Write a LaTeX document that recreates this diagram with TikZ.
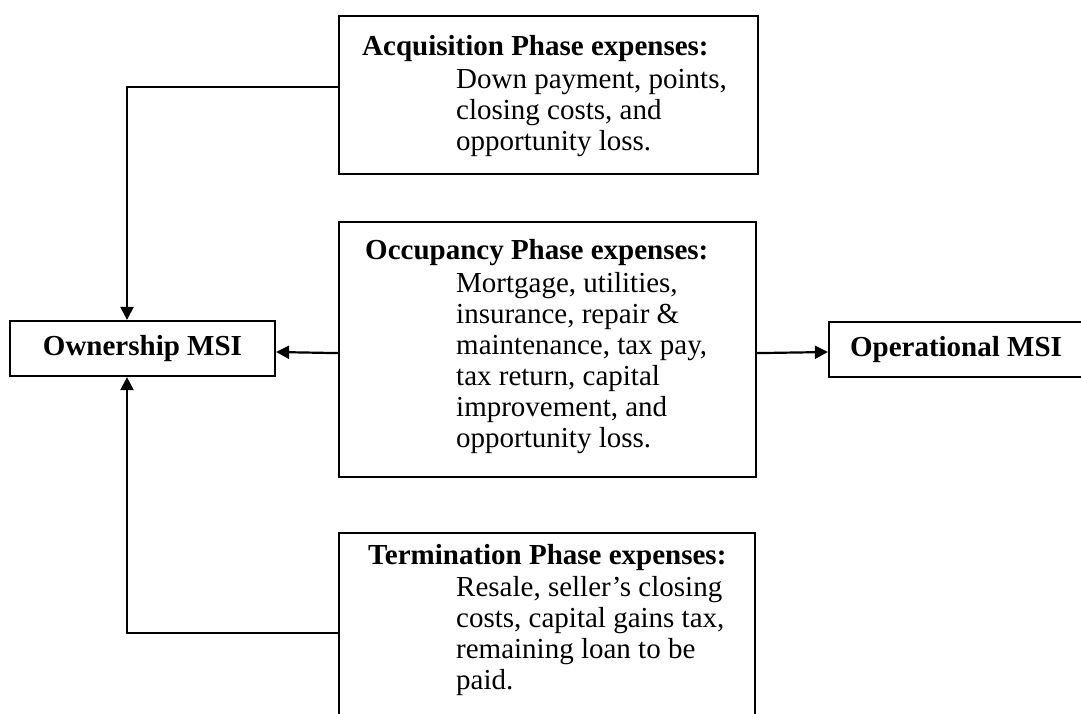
\documentclass[tikz,border=0pt]{standalone}
\usepackage{fontspec}
\setmainfont{Liberation Serif}
\usetikzlibrary{arrows.meta}
\begin{document}
\begin{tikzpicture}[x=1pt,y=1pt,
  box/.style={draw, line width=2.2pt, inner sep=0pt},
  txt/.style={anchor=north west, inner sep=0pt, align=left, font=\fontsize{29}{31}\selectfont},
  lbl/.style={font=\fontsize{29}{31}\selectfont\bfseries},
  conn/.style={line width=2.2pt},
  arr/.style={conn, -{Triangle[length=13pt,width=13pt]}}]
\path[use as bounding box, clip] (0,0) rectangle (1081,-713);
% phase boxes
\node[box, anchor=north west, minimum width=419pt, minimum height=158pt] (acq) at (338,-15) {};
\node[txt] (acqtext) at (362,-33) {\rule{0pt}{22pt}\textbf{Acquisition Phase expenses:}\\[2pt]
  \hspace*{94pt}Down payment, points,\\
  \hspace*{94pt}closing costs, and\\
  \hspace*{94pt}opportunity loss.};
\node[box, anchor=north west, minimum width=417pt, minimum height=255pt] (occ) at (338,-221) {};
\node[txt] (occtext) at (365,-237) {\rule{0pt}{22pt}\textbf{Occupancy Phase expenses:}\\[2pt]
  \hspace*{91pt}Mortgage, utilities,\\
  \hspace*{91pt}insurance, repair \&\\
  \hspace*{91pt}maintenance, tax pay,\\
  \hspace*{91pt}tax return, capital\\
  \hspace*{91pt}improvement, and\\
  \hspace*{91pt}opportunity loss.};
\node[box, anchor=north west, minimum width=416pt, minimum height=200pt] (term) at (338,-532) {};
\node[txt] (termtext) at (368,-542) {\rule{0pt}{22pt}\textbf{Termination Phase expenses:}\\[1pt]
  \hspace*{88pt}Resale, seller’s closing\\
  \hspace*{88pt}costs, capital gains tax,\\
  \hspace*{88pt}remaining loan to be\\
  \hspace*{88pt}paid.};
% MSI boxes
\node[box, lbl, minimum width=265pt, minimum height=55pt] (own) at (142.5,-348.5) {Ownership MSI};
\node[box, lbl, minimum width=254pt, minimum height=55pt] (op) at (956,-349.5) {Operational MSI};
% connectors
\draw[arr] ([yshift=8pt]acq.west) -| ([xshift=-15.5pt]own.north);
\draw[arr] ([yshift=-3.5pt]occ.west) -- ([yshift=-3.5pt]own.east);
\draw[arr] ([yshift=-3.5pt]occ.east) -- ([yshift=-2.5pt]op.west);
\draw[arr] ([yshift=-101pt]term.north west) -| ([xshift=-15.5pt]own.south);
\end{tikzpicture}
\end{document}
